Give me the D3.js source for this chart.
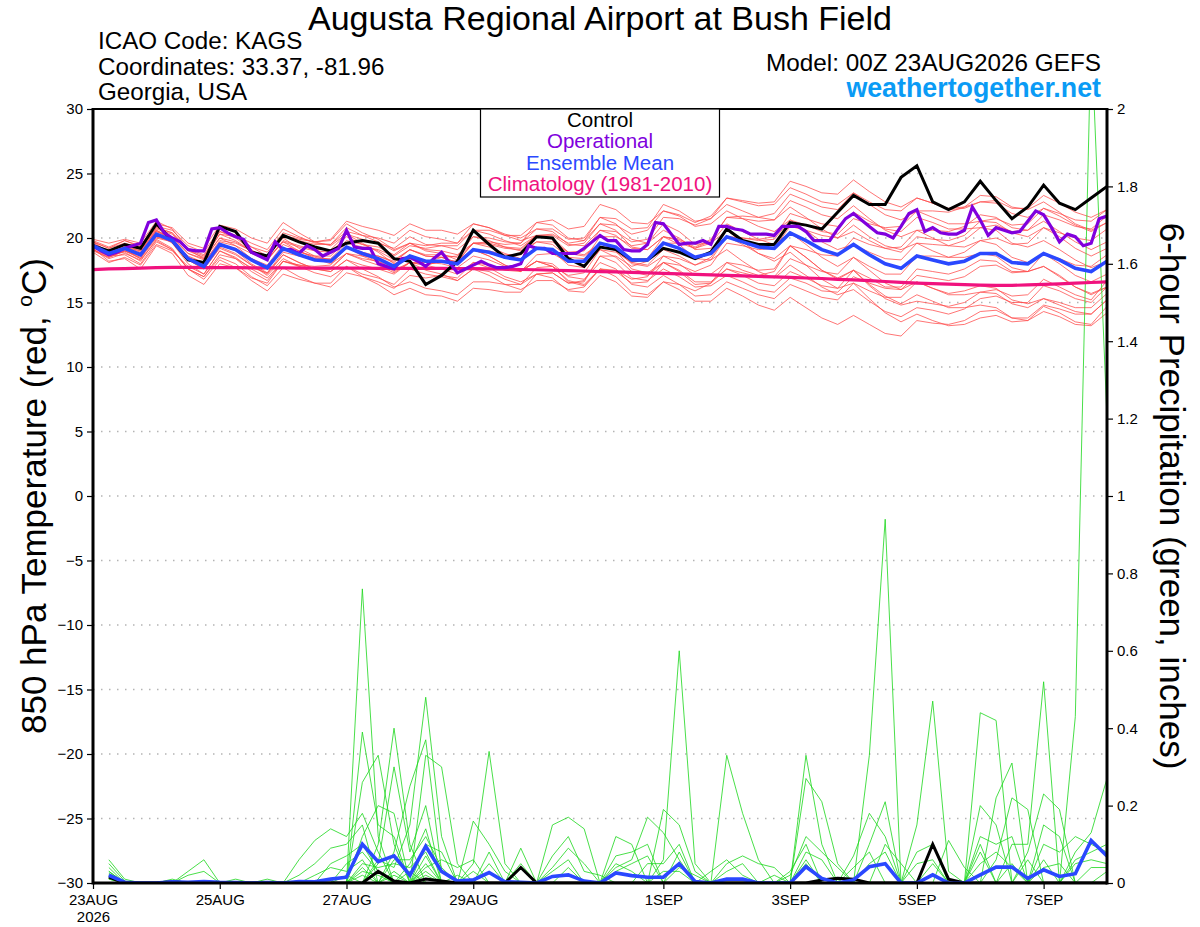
<!DOCTYPE html>
<html>
<head>
<meta charset="utf-8">
<script src="https://cdn.jsdelivr.net/npm/d3@7"></script>
<style>
  body { margin: 0; background: #fff; }
  svg { display: block; font-family: "Liberation Sans", Arial, Helvetica, sans-serif; }
</style>
</head>
<body>
<script>
// 6-hourly steps from 00Z 23AUG2026 (index 0) to 00Z 8SEP (index 64)
var dateTicks = [0, 8, 16, 24, 36, 44, 52, 60];
var dateLabels = ["23AUG", "25AUG", "27AUG", "29AUG", "1SEP", "3SEP", "5SEP", "7SEP"];
var tempTicks = [-30, -25, -20, -15, -10, -5, 0, 5, 10, 15, 20, 25, 30];
var precipTicks = [0, 0.2, 0.4, 0.6, 0.8, 1, 1.2, 1.4, 1.6, 1.8, 2];

// 850 hPa temperature, control (black)
var controlTemp = [19.4,19.0,19.5,19.2, 21.1,19.8,18.3,18.1, 20.9,20.5,18.9,18.6, 20.2,19.7,19.3,19.0,
  19.6,19.8,19.6,18.4, 18.2,16.4,17.1,18.2, 20.6,19.5,18.5,18.8, 20.1,20.0,18.4,17.8,
  19.3,19.1,18.3,18.3, 19.2,18.9,18.4,18.9, 20.7,19.8,19.5,19.5, 21.2,21.0,20.7,22.0,
  23.3,22.6,22.6,24.7, 25.6,22.8,22.2,22.8, 24.4,22.9,21.5,22.4, 24.1,22.7,22.2,23.1, 24.0];

// operational run, 3-hourly (purple)
var operTemp = [19.4,19.0,18.7,18.9, 19.2,19.4,19.6,21.2, 21.4,20.4,20.0,19.7, 19.1,19.0,19.0,20.7,
  20.8,20.4,20.1,19.9, 18.9,18.6,18.3,19.7, 19.1,19.1,18.8,19.4, 19.1,18.6,18.9,19.2,
  20.6,19.3,19.2,19.2, 18.0,17.8,17.6,18.4, 18.5,18.2,17.8,18.4, 18.9,18.1,17.3,17.6,
  17.9,18.2,17.9,17.7, 17.7,17.8,18.0,19.4, 19.2,19.2,18.8,18.8, 18.8,18.8,19.2,19.7,
  20.2,19.8,19.8,19.1, 19.0,19.0,19.5,21.2, 21.1,20.3,19.5,19.6, 19.6,19.8,19.5,20.9,
  20.9,20.7,20.6,20.3, 20.3,20.3,20.2,20.9, 20.9,20.9,20.5,19.8, 19.8,19.8,20.7,21.5,
  21.9,21.4,20.9,20.4, 20.3,20.0,20.9,21.9, 22.2,20.5,20.8,20.4, 20.3,20.3,20.6,22.4,
  21.4,20.2,20.8,20.6, 20.4,20.5,21.3,22.1, 21.8,20.8,19.7,20.3, 20.1,19.4,19.6,21.5, 21.7];

// ensemble mean (blue)
var meanTemp = [19.4,18.8,19.2,18.7, 20.3,19.8,18.4,17.8, 19.5,19.1,18.3,17.7, 19.2,18.7,18.3,18.2,
  19.3,18.8,18.4,17.8, 18.6,18.2,18.2,18.0, 19.1,18.9,18.5,18.3, 19.2,19.1,18.2,18.2,
  19.6,19.3,18.3,18.3, 19.6,19.2,18.5,18.8, 20.1,19.7,19.3,19.2, 20.4,19.8,19.1,18.7,
  19.5,18.7,18.0,17.65, 18.6,18.3,18.0,18.2, 18.8,18.8,18.1,18.0, 18.8,18.3,17.65,17.4, 18.2];

// climatology 1981-2010 (pink)
var climTemp = [17.55,17.6,17.63,17.66, 17.7,17.72,17.72,17.71, 17.7,17.7,17.69,17.68, 17.68,17.67,17.67,17.66,
  17.66,17.66,17.65,17.65, 17.65,17.65,17.64,17.63, 17.62,17.6,17.58,17.56, 17.54,17.5,17.47,17.44,
  17.4,17.37,17.33,17.3, 17.26,17.22,17.18,17.14, 17.1,17.06,17.02,16.98, 16.94,16.9,16.86,16.8,
  16.75,16.7,16.63,16.56, 16.5,16.46,16.42,16.38, 16.35,16.33,16.33,16.36, 16.4,16.45,16.5,16.55, 16.6];

// ensemble members (thin red)
var memberTemp = [
  [19.7,19.2,19.6,19.2, 20.8,20.4,19.2,18.7, 20.5,20.2,19.6,19.1, 20.7,20.1,19.6,19.5, 20.5,20.2,20.0,19.6, 20.6,20.1,19.9,19.6, 20.6,20.3,19.8,19.4, 20.2,20.2,19.4,19.6, 21.1,21.0,20.3,20.6, 22.1,21.8,21.2,21.7, 23.1,22.8,22.5,22.6, 23.9,23.4,22.8,22.6, 23.5,22.8,22.2,22.1, 23.1,22.7,22.2,22.3, 22.8,22.7,21.9,21.6, 22.3,21.7,21.0,20.5, 21.2],
  [19.1,18.4,18.8,18.3, 19.8,19.1,17.6,17.0, 18.5,18.0,17.0,16.3, 17.7,17.0,16.5,16.2, 17.3,17.0,16.6,16.1, 17.1,16.9,17.1,16.9, 18.1,17.7,17.0,16.6, 17.2,16.9,15.9,15.8, 17.1,16.6,15.5,15.4, 16.6,16.0,15.1,15.1, 16.1,15.5,14.8,14.4, 15.4,14.6,13.8,13.3, 14.0,13.3,12.6,12.4, 13.6,13.4,13.3,13.6, 14.3,14.4,13.8,13.8, 14.8,14.5,14.1,14.1, 15.2],
  [19.9,19.6,19.9,19.6, 21.3,20.7,19.1,18.4, 20.0,19.4,18.4,17.7, 19.2,18.9,18.6,18.6, 19.8,19.5,19.3,18.7, 19.6,19.4,19.6,19.6, 21.1,20.8,20.3,20.0, 20.7,20.5,19.5,19.4, 20.6,20.2,19.2,19.1, 20.1,19.9,19.3,19.9, 21.6,21.5,21.3,21.4, 22.9,22.4,21.8,21.5, 22.5,21.5,20.6,20.1, 20.6,20.0,19.4,19.3, 19.8,19.5,18.5,18.1, 18.8,18.0,17.1,16.6, 17.2],
  [18.9,18.1,18.5,17.9, 19.5,19.0,17.8,17.2, 19.0,18.5,17.6,16.9, 18.2,17.9,17.6,17.6, 18.8,18.4,18.2,17.7, 18.6,18.1,18.0,17.7, 18.6,18.3,17.8,17.5, 18.2,18.0,17.0,16.8, 18.1,17.6,16.4,16.2, 17.1,16.4,15.5,15.6, 16.6,16.1,15.6,15.3, 16.4,15.9,15.4,15.2, 16.5,15.9,15.4,15.4, 16.6,16.1,15.7,15.9, 16.3,16.1,15.2,14.9, 15.3,15.0,14.6,14.6, 15.7],
  [19.6,18.9,19.2,18.6, 20.3,20.0,18.8,18.4, 20.3,20.1,19.3,18.9, 20.4,20.0,19.7,19.8, 21.1,20.4,19.9,19.1, 19.6,19.1,19.0,18.7, 19.6,19.6,19.3,19.2, 20.2,20.3,19.6,19.8, 21.6,21.5,20.7,20.8, 22.6,22.1,21.3,21.5, 22.6,22.1,21.6,21.4, 22.4,21.6,20.7,20.0, 20.5,19.8,19.2,18.9, 20.1,19.9,19.8,20.2, 21.3,21.5,21.0,21.1, 22.3,21.9,21.4,21.3, 22.2],
  [19.2,18.8,19.3,18.9, 20.6,19.9,18.3,17.6, 19.2,18.7,17.9,17.2, 18.7,18.1,17.6,17.4, 18.3,17.6,17.0,16.2, 16.6,16.1,15.9,15.6, 16.6,16.6,16.4,16.4, 17.7,17.8,17.1,17.3, 19.1,18.9,18.1,18.4, 20.1,19.8,19.2,19.6, 21.1,20.5,19.9,19.5, 20.4,19.5,18.5,17.8, 18.5,17.5,16.5,16.0, 16.6,16.1,15.6,15.6, 15.8,15.7,14.9,14.6, 15.3,14.8,14.3,14.1, 15.2],
  [19.8,19.3,19.8,19.3, 20.9,20.6,19.4,18.9, 20.7,20.2,19.3,18.6, 20.0,19.2,18.6,18.3, 19.3,18.7,18.2,17.5, 18.1,17.9,18.2,18.2, 19.6,19.7,19.5,19.6, 20.7,20.7,19.9,20.0, 21.6,21.1,19.9,19.6, 20.6,20.0,19.1,19.2, 20.1,19.5,18.8,18.4, 19.4,18.5,17.5,16.9, 17.5,16.4,15.5,14.9, 15.6,15.1,14.6,14.6, 14.8,14.6,13.8,13.6, 14.3,13.9,13.3,13.2, 14.2],
  [19.0,18.5,19.0,18.6, 20.1,19.8,18.6,18.1, 19.7,19.4,18.8,18.3, 19.8,19.4,19.1,19.1, 20.3,19.9,19.6,19.2, 20.1,19.5,19.4,19.1, 20.1,19.8,19.3,19.0, 19.7,19.5,18.5,18.4, 19.6,19.1,18.0,17.8, 18.6,18.0,17.1,17.2, 18.1,17.5,17.1,17.4, 19.4,19.1,18.7,18.6, 20.0,19.5,19.2,19.3, 20.6,20.6,20.5,20.9, 21.8,21.6,20.8,20.6, 21.3,20.5,19.7,19.1, 19.7],
  [19.5,18.7,18.9,18.2, 19.9,19.2,17.6,16.8, 18.3,17.7,16.7,15.9, 17.2,16.8,16.5,16.5, 17.8,17.2,16.9,16.4, 17.6,17.2,17.0,16.7, 17.6,17.4,16.8,16.4, 17.2,17.3,16.5,16.7, 18.6,18.6,17.8,18.2, 19.6,19.6,19.2,19.8, 21.6,21.7,21.6,21.9, 23.4,22.9,22.4,22.2, 23.5,22.6,21.8,21.4, 22.1,21.6,21.1,21.1, 21.3,21.2,20.4,20.1, 20.8,20.4,20.0,19.8, 20.7],
  [19.3,18.8,19.3,19.0, 20.7,20.3,19.0,18.5, 20.3,19.8,19.0,18.4, 19.7,19.3,19.0,18.9, 20.1,19.5,19.0,18.3, 19.1,18.6,18.5,18.1, 19.1,19.0,18.7,18.7, 19.7,19.7,18.9,19.0, 20.6,20.5,19.7,19.9, 21.6,21.5,21.0,21.5, 23.1,22.9,22.7,22.8, 24.4,24.0,23.5,23.4, 24.5,23.6,22.8,22.4, 23.1,22.7,22.3,22.4, 22.8,22.9,22.3,22.3, 23.3,22.7,22.0,21.6, 22.2],
  [19.6,18.6,18.7,18.0, 19.7,19.1,17.6,17.0, 18.7,18.4,17.7,17.3, 18.9,18.6,18.4,18.4, 19.6,19.3,19.1,18.6, 19.4,19.2,19.4,19.4, 20.6,20.6,20.2,20.2, 21.2,21.0,20.0,19.8, 21.1,20.6,19.3,19.1, 20.1,19.5,18.4,18.3, 19.1,18.2,17.4,16.9, 17.9,17.1,16.2,15.6, 16.0,15.1,14.3,13.9, 14.6,14.4,14.1,14.5, 15.3,15.5,15.0,15.0, 16.3,15.9,15.3,15.0, 16.2],
  [19.1,18.6,19.2,18.8, 20.5,20.1,18.8,18.3, 20.0,19.7,19.0,18.5, 20.2,19.8,19.5,19.5, 20.8,20.2,19.7,19.0, 19.6,19.0,18.8,18.3, 19.1,18.6,17.9,17.4, 18.2,17.8,16.6,16.3, 17.6,17.4,16.5,16.6, 18.1,17.9,17.4,17.9, 19.6,19.4,19.1,19.2, 20.9,20.6,20.2,20.0, 21.0,20.1,19.4,19.1, 19.6,19.0,18.5,18.5, 18.8,18.6,17.7,17.4, 17.8,17.0,16.2,15.7, 16.2],
  [19.7,19.2,19.8,19.4, 21.1,20.8,19.6,19.2, 21.0,20.7,20.0,19.6, 21.2,20.4,19.7,19.4, 20.3,19.6,18.9,18.0, 18.6,17.9,17.6,17.2, 18.1,17.9,17.5,17.4, 18.7,18.8,18.1,18.3, 20.1,20.1,19.4,19.6, 21.1,20.5,19.5,19.6, 20.6,19.7,18.8,18.2, 18.9,17.9,16.8,16.1, 16.5,15.3,14.2,13.5, 14.1,13.6,13.2,13.3, 13.8,14.0,13.5,13.6, 14.7,14.2,13.5,13.3, 14.7],
  [19.2,18.2,18.4,17.6, 19.4,18.8,17.1,16.4, 18.0,17.7,16.9,16.5, 18.2,17.9,17.8,17.9, 19.3,18.9,18.6,18.1, 19.1,18.7,18.7,18.5, 19.6,19.3,18.8,18.4, 19.2,19.0,17.9,17.7, 19.1,18.5,17.4,17.1, 18.1,17.5,16.6,16.6, 17.6,17.3,17.0,17.0, 18.4,17.9,17.4,17.2, 18.5,17.8,17.2,17.2, 18.6,18.6,18.5,18.9, 19.8,20.0,19.5,19.6, 20.8,20.1,19.2,18.6, 19.2],
  [19.4,18.9,19.3,18.8, 20.5,19.9,18.3,17.6, 19.3,18.8,17.9,17.1, 18.4,17.8,17.3,17.0, 17.8,17.0,16.4,15.6, 16.1,15.6,15.5,15.1, 16.1,16.0,15.8,15.8, 17.2,17.3,16.5,16.6, 18.6,18.1,16.9,16.7, 17.6,17.0,16.2,16.3, 17.1,16.6,16.0,15.8, 16.9,16.5,15.9,15.8, 17.0,16.5,16.1,16.0, 17.1,16.9,16.7,17.0, 17.8,17.9,17.3,17.4, 18.8,18.4,17.9,17.8, 18.7],
  [19.5,19.0,19.5,19.1, 20.8,20.4,19.1,18.6, 20.5,20.0,19.1,18.3, 19.7,19.0,18.4,18.0, 18.8,18.3,17.9,17.3, 18.1,18.1,18.5,18.6, 20.1,20.0,19.7,19.6, 21.2,21.4,20.7,20.9, 22.6,22.2,21.2,21.1, 22.1,21.7,20.9,21.1, 22.1,21.5,20.9,20.5, 21.4,20.6,19.7,19.1, 19.5,18.9,18.4,18.3, 19.6,19.5,19.4,19.8, 20.8,21.0,20.5,20.6, 21.8,21.4,20.9,20.7, 21.7],
  [19.3,18.6,19.0,18.4, 20.0,19.7,18.5,18.1, 19.8,19.6,19.0,18.6, 20.2,19.9,19.7,19.9, 21.3,20.9,20.6,20.2, 21.1,20.6,20.6,20.3, 21.1,20.8,20.2,19.8, 20.2,19.9,18.8,18.6, 19.6,19.2,18.1,17.9, 19.1,18.6,17.9,18.3, 20.1,20.0,19.8,19.9, 21.4,21.0,20.5,20.3, 21.5,21.1,20.8,20.9, 22.1,22.1,22.0,22.4, 23.3,23.2,22.4,22.2, 22.8,22.0,21.1,20.6, 21.2],
  [19.7,18.9,19.1,18.4, 20.3,19.6,18.0,17.2, 19.0,18.4,17.4,16.7, 18.2,17.8,17.6,17.7, 18.8,18.6,18.6,18.2, 19.1,18.6,18.5,18.1, 19.1,18.6,17.9,17.4, 18.2,17.8,16.7,16.4, 17.6,17.0,15.8,15.6, 16.6,16.4,15.9,16.5, 18.1,17.9,17.5,17.6, 19.4,18.5,17.5,16.8, 17.5,16.3,15.3,14.8, 15.1,14.9,14.7,15.0, 15.8,16.0,15.5,15.6, 16.8,16.2,15.6,15.2, 16.7],
  [19.1,18.5,19.0,18.5, 20.1,19.7,18.4,17.8, 19.5,19.2,18.4,17.9, 19.5,19.0,18.5,18.3, 19.3,18.6,18.1,17.4, 18.1,17.5,17.2,16.7, 17.6,17.1,16.4,16.0, 16.7,16.7,16.0,16.2, 17.6,17.5,16.8,17.0, 18.6,18.4,17.9,18.5, 20.1,20.0,19.9,20.1, 21.9,21.5,21.1,20.9, 22.0,21.3,20.7,20.5, 21.6,21.2,20.7,20.7, 20.8,20.6,19.6,19.3, 19.8,19.1,18.3,17.7, 18.2],
  [19.4,18.9,19.4,19.0, 20.6,20.0,18.4,17.7, 19.5,19.0,18.0,17.3, 18.7,18.1,17.6,17.4, 18.3,17.9,17.6,17.2, 18.1,17.9,18.2,18.2, 19.6,19.5,19.2,19.1, 20.2,20.0,18.9,18.7, 19.6,19.0,17.6,17.3, 18.1,17.4,16.4,16.5, 17.6,17.1,16.5,16.3, 17.4,16.9,16.3,16.1, 17.5,16.9,16.2,16.2, 17.6,17.4,17.2,17.6, 18.3,18.2,17.4,17.4, 17.8,17.1,16.2,15.6, 16.2]
];

// 6-hour precipitation (inches); index 0 has no value
var controlPrecip = [null, 0.015,0,0,0, 0.003,0,0,0, 0,0,0,0, 0,0,0,0, 0,0.03,0.005,0, 0.01,0.005,0,0,
  0,0,0.04,0, 0,0,0,0, 0,0,0,0, 0,0,0,0, 0,0,0,0, 0,0.008,0.012,0.01, 0,0,0,0,
  0.1,0.01,0,0, 0,0,0,0, 0,0,0,0];
var meanPrecip = [null, 0.02,0.002,0,0, 0.003,0.002,0.004,0.002, 0.001,0,0.001,0, 0.004,0.003,0.01,0.015,
  0.10,0.055,0.07,0.02, 0.095,0.03,0.005,0.008, 0.027,0.003,0.002,0, 0.017,0.021,0.005,0,
  0.026,0.019,0.015,0.015, 0.05,0.004,0,0.01, 0.01,0,0,0, 0.042,0.012,0,0.008,
  0.042,0.05,0,0, 0.021,0,0,0.021, 0.041,0.041,0.012,0.034, 0.017,0.024,0.11,0.07];

// member precipitation: [6-h index, inches]; steps not listed are dry
var memberPrecip = [
  [[1,.03],[17,.05],[18,.04],[19,.05],[20,.04],[21,.08],[27,.05],[36,.03],[37,.03],[44,.03],[45,.1],[56,.12],[57,.1],[58,.12],[64,.03]],
  [[1,.05],[2,.005],[17,.03],[18,.02],[20,.03],[23,.02],[25,.05],[33,.05],[34,.03],[43,.02],[45,.05],[54,.11],[55,.04],[60,.06]],
  [[1,.02],[5,.01],[14,.02],[15,.04],[16,.03],[17,.06],[19,.02],[21,.1],[22,.08],[36,.19],[37,.15],[38,.03],[49,.05],[50,.08],[60,.04],[61,.05]],
  [[1,.01],[17,.76],[18,.12],[29,.04],[30,.09],[31,.05],[45,.08],[46,.06],[56,.1],[62,.06],[63,.08],[64,.1]],
  [[1,.04],[11,.01],[16,.02],[18,.1],[19,.4],[20,.1],[30,.04],[48,.07],[49,.18],[50,.12],[58,.1],[59,.1],[60,.52]],
  [[1,.02],[17,.39],[18,.15],[19,.12],[21,.07],[27,.09],[37,.04],[38,.02],[49,.1],[50,.21],[62,.08],[63,.13],[64,.27]],
  [[1,.06],[2,.01],[17,.04],[19,.08],[20,.25],[21,.37],[22,.03],[39,.03],[40,.06],[41,.02],[52,.15],[53,.47],[54,.03]],
  [[1,.01],[13,.06],[14,.11],[15,.14],[16,.12],[17,.18],[18,.08],[24,.03],[40,.05],[41,.07],[42,.05],[43,.04],[56,.44],[57,.42]],
  [[1,.03],[6,.03],[7,.06],[17,.02],[21,.05],[25,.08],[33,.12],[34,.1],[40,.03],[41,.05],[53,.05],[60,.1],[61,.08],[62,.12],[63,.1],[64,.08]],
  [[1,.02],[18,.06],[19,.04],[20,.15],[21,.48],[22,.12],[44,.02],[45,.12],[46,.08],[47,.04],[57,.22],[58,.31]],
  [[1,.015],[17,.26],[18,.33],[19,.1],[29,.15],[30,.17],[31,.14],[45,.06],[52,.08],[53,.1],[62,.43],[63,2.2],[64,1.2]],
  [[13,.02],[14,.05],[15,.09],[16,.1],[17,.15],[20,.05],[21,.14],[36,.06],[37,.6],[38,.05],[56,.2],[57,.15]],
  [[1,.025],[17,.12],[18,.2],[19,.18],[29,.07],[30,.12],[31,.03],[32,.02],[45,.27],[46,.21],[47,.05],[58,.05],[60,.15],[61,.12]],
  [[6,.02],[7,.03],[9,.01],[18,.05],[19,.3],[20,.08],[21,.2],[33,.07],[34,.08],[35,.1],[48,.04],[49,.08],[59,.08],[60,.23],[61,.19]],
  [[19,.03],[21,.33],[22,.3],[23,.05],[40,.33],[41,.18],[42,.06],[56,.08]],
  [[15,.05],[16,.07],[17,.1],[18,.03],[29,.03],[30,.06],[45,.33],[46,.1],[57,.06],[58,.22],[59,.19]],
  [[16,.05],[17,.08],[18,.03],[21,.03],[24,.16],[25,.1],[26,.03],[49,.33],[50,.94],[63,.04],[64,.04]],
  [[19,.06],[20,.06],[21,.12],[22,.04],[33,.04],[34,.06],[35,.17],[36,.13],[37,.06],[56,.05],[57,.08],[58,.04]],
  [[21,.04],[22,.06],[23,.04],[24,.06],[33,.03],[34,.05],[35,.07],[37,.08],[50,.1],[51,.05],[62,.05],[63,.06],[64,.05]],
  [[21,.02],[24,.05],[25,.34],[26,.05],[35,.05],[36,.05],[37,.1],[52,.05],[53,.06],[59,.06]]
];

var legendItems = [
  { label: "Control", color: "#000000" },
  { label: "Operational", color: "#8000dd" },
  { label: "Ensemble Mean", color: "#2a48ff" },
  { label: "Climatology (1981-2010)", color: "#f0127e" }
];

var width = 1200, height = 927;
var pL = 93, pR = 1107, pT = 109, pB = 883;

var svg = d3.select("body").append("svg").attr("width", width).attr("height", height);

var x = d3.scaleLinear().domain([0, 64]).range([pL, pR]);
var yT = d3.scaleLinear().domain([-30, 30]).range([pB, pT]);
var yP = d3.scaleLinear().domain([0, 2]).range([pB, pT]);

svg.append("clipPath").attr("id", "plotclip").append("rect")
  .attr("x", pL).attr("y", pT).attr("width", pR - pL).attr("height", pB - pT);

//dotted grid on the temperature ticks
svg.append("g").selectAll("line").data(tempTicks.filter(function(d) { return d > -30 && d < 30; }))
  .enter().append("line")
  .attr("x1", pL).attr("x2", pR)
  .attr("y1", function(d) { return yT(d); }).attr("y2", function(d) { return yT(d); })
  .attr("stroke", "#b4b4b4").attr("stroke-width", 1.3).attr("stroke-dasharray", "1.5,6.5");

var plot = svg.append("g").attr("clip-path", "url(#plotclip)");

var lineT = d3.line().x(function(d, i) { return x(i); }).y(function(d) { return yT(d); });
var lineOp = d3.line().x(function(d, i) { return x(i / 2); }).y(function(d) { return yT(d); });
var lineP = d3.line().defined(function(d) { return d != null; })
  .x(function(d, i) { return x(i); }).y(function(d) { return yP(d); });

function fillPrecip(events) {
  var a = [null];
  for (var i = 1; i <= 64; i++) a.push(0);
  events.forEach(function(e) { a[e[0]] = e[1]; });
  return a;
}

//members
plot.selectAll(".mt").data(memberTemp).enter().append("path").attr("class", "mt")
  .attr("d", lineT).attr("fill", "none").attr("stroke", "#ff4a4a").attr("stroke-opacity", 0.85).attr("stroke-width", 0.9);

plot.selectAll(".mp").data(memberPrecip.map(fillPrecip)).enter().append("path").attr("class", "mp")
  .attr("d", lineP).attr("fill", "none").attr("stroke", "#1ed81e").attr("stroke-opacity", 0.9).attr("stroke-width", 0.9);

//climatology, control, operational, mean
plot.append("path").attr("d", lineT(climTemp)).attr("fill", "none").attr("stroke", "#f0127e").attr("stroke-width", 3.2);
plot.append("path").attr("d", lineT(controlTemp)).attr("fill", "none").attr("stroke", "#000").attr("stroke-width", 3);
plot.append("path").attr("d", lineP(controlPrecip)).attr("fill", "none").attr("stroke", "#000").attr("stroke-width", 3);
plot.append("path").attr("d", lineOp(operTemp)).attr("fill", "none").attr("stroke", "#8000dd").attr("stroke-width", 3.2);
plot.append("path").attr("d", lineT(meanTemp)).attr("fill", "none").attr("stroke", "#2a48ff").attr("stroke-width", 3.6);
plot.append("path").attr("d", lineP(meanPrecip)).attr("fill", "none").attr("stroke", "#2a48ff").attr("stroke-width", 3.6);

//axes
var axL = svg.append("g").attr("transform", "translate(" + pL + ",0)")
  .call(d3.axisLeft(yT).tickValues(tempTicks).tickSize(6).tickPadding(4));
var axR = svg.append("g").attr("transform", "translate(" + pR + ",0)")
  .call(d3.axisRight(yP).tickValues(precipTicks).tickSize(6).tickPadding(4).tickFormat(d3.format("~g")));
var axB = svg.append("g").attr("transform", "translate(0," + pB + ")")
  .call(d3.axisBottom(x).tickValues(dateTicks).tickSize(6).tickPadding(5)
    .tickFormat(function(d, i) { return dateLabels[i]; }));

[axL, axR, axB].forEach(function(a) {
  a.select(".domain").remove();
  a.attr("font-size", 15).attr("font-family", "'Liberation Sans', Arial, sans-serif");
  a.selectAll("text").attr("fill", "#000");
  a.selectAll(".tick line").attr("stroke", "#000").attr("stroke-width", 1.2);
});
axB.select(".tick text").append("tspan").attr("x", 0).attr("dy", "1.15em").text("2026");

//frame
svg.append("line").attr("x1", pL).attr("x2", pR).attr("y1", pT).attr("y2", pT).attr("stroke", "#000").attr("stroke-width", 2);
svg.append("line").attr("x1", pL).attr("x2", pL).attr("y1", pT - 1).attr("y2", pB + 1.5).attr("stroke", "#000").attr("stroke-width", 3);
svg.append("line").attr("x1", pR).attr("x2", pR).attr("y1", pT - 1).attr("y2", pB + 1.5).attr("stroke", "#000").attr("stroke-width", 3);
svg.append("line").attr("x1", pL).attr("x2", pR).attr("y1", pB).attr("y2", pB).attr("stroke", "#000").attr("stroke-width", 3);

//legend
var lg = svg.append("g");
lg.append("rect").attr("x", 480.5).attr("y", pT).attr("width", 239).attr("height", 88)
  .attr("fill", "#fff").attr("stroke", "#000").attr("stroke-width", 1.2);
lg.selectAll("text").data(legendItems).enter().append("text")
  .attr("x", 600).attr("y", function(d, i) { return 127 + i * 21.3; })
  .attr("text-anchor", "middle").attr("font-size", 20.5)
  .attr("fill", function(d) { return d.color; })
  .text(function(d) { return d.label; });

//titles
svg.append("text").attr("x", 600).attr("y", 30).attr("text-anchor", "middle").attr("font-size", 34)
  .text("Augusta Regional Airport at Bush Field");
var info = ["ICAO Code: KAGS", "Coordinates: 33.37, -81.96", "Georgia, USA"];
svg.append("g").selectAll("text").data(info).enter().append("text")
  .attr("x", 98).attr("y", function(d, i) { return 49 + i * 25.5; })
  .attr("font-size", 24.2).text(function(d) { return d; });
svg.append("text").attr("x", 1101).attr("y", 71).attr("text-anchor", "end").attr("font-size", 24.3)
  .text("Model: 00Z 23AUG2026 GEFS");
svg.append("text").attr("x", 1101).attr("y", 97).attr("text-anchor", "end").attr("font-size", 26.8)
  .attr("font-weight", "bold").attr("fill", "#0a9bf5").text("weathertogether.net");

var yl = svg.append("text").attr("transform", "translate(46,496) rotate(-90)")
  .attr("text-anchor", "middle").attr("font-size", 35);
yl.append("tspan").text("850 hPa Temperature (red, ");
yl.append("tspan").attr("font-size", 21).attr("dy", -14).text("o");
yl.append("tspan").attr("dy", 14).text("C)");

svg.append("text").attr("transform", "translate(1160,496) rotate(90)")
  .attr("text-anchor", "middle").attr("font-size", 35)
  .text("6-hour Precipitation (green, inches)");
</script>
</body>
</html>
